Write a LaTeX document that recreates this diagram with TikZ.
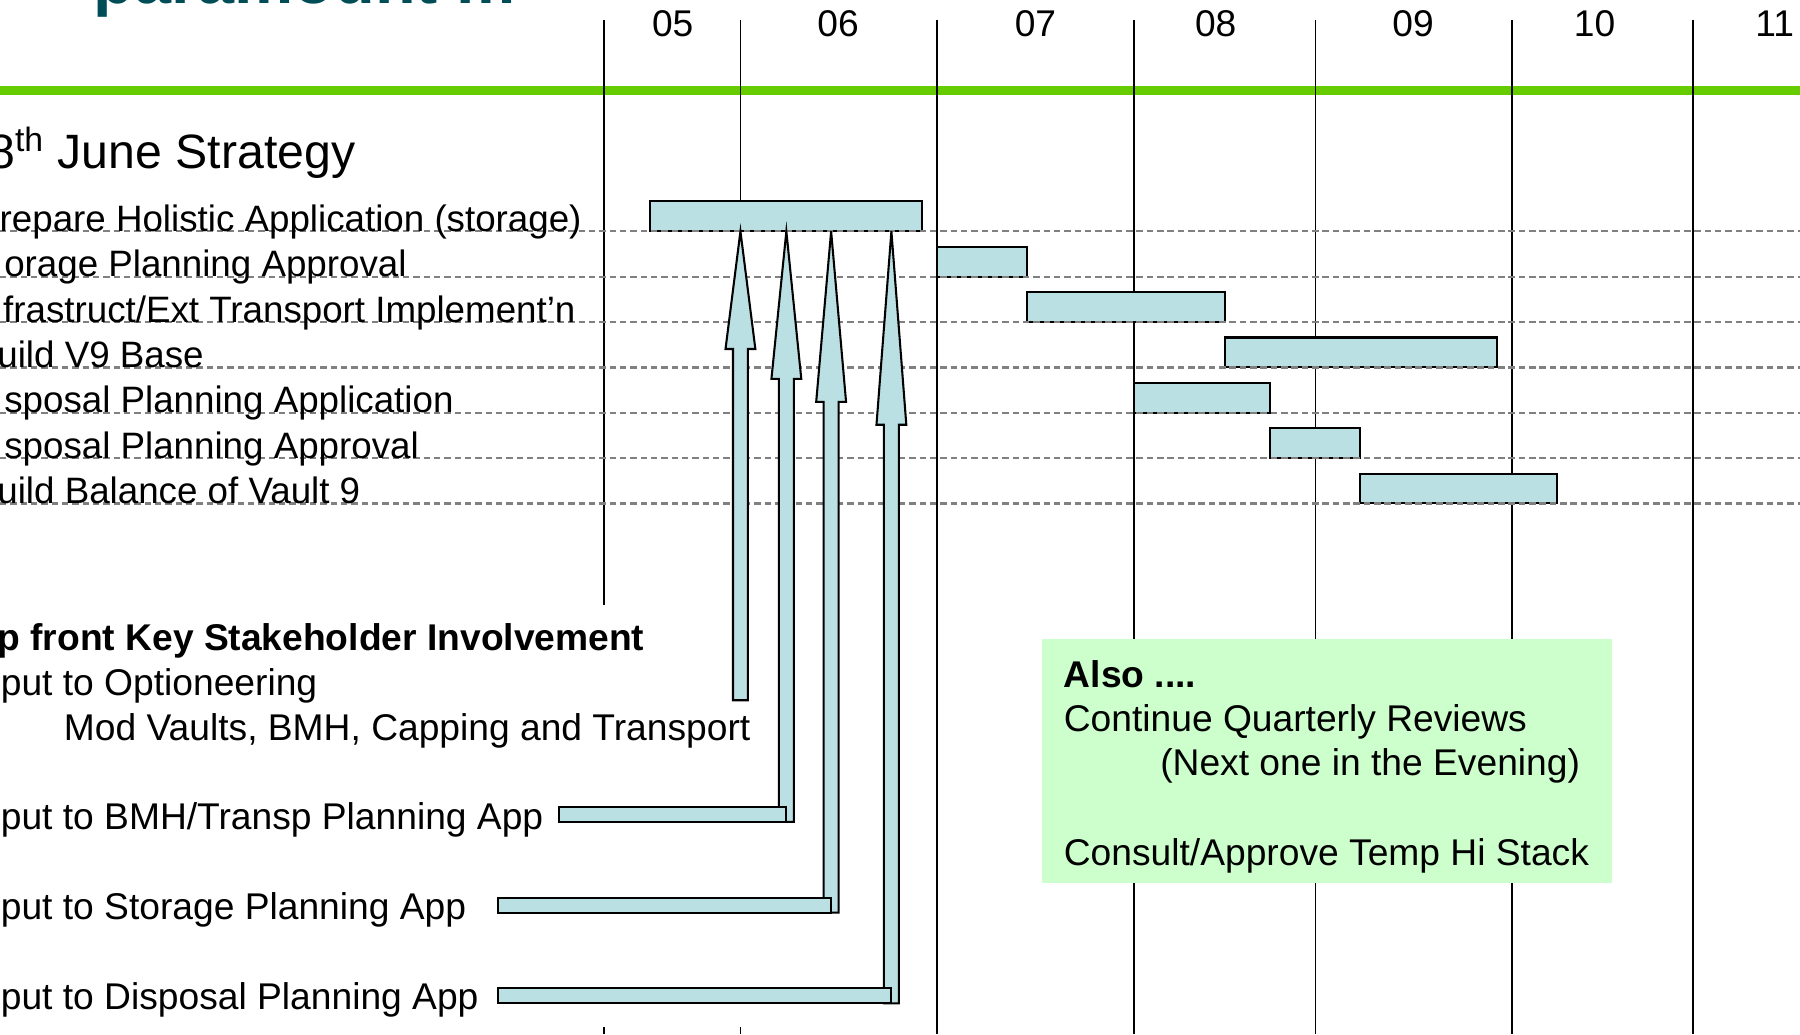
\documentclass[tikz,border=0pt]{standalone}
\usepackage{fontspec}
\setmainfont{Liberation Sans}

\definecolor{barblue}{RGB}{187,224,227}
\definecolor{rulegreen}{RGB}{102,204,0}
\definecolor{notegreen}{RGB}{204,255,204}
\definecolor{titleteal}{RGB}{0,77,87}
\definecolor{leadgrey}{RGB}{128,128,128}

\tikzset{every picture/.style={line width=0.75pt}}
\tikzset{
  taskbar/.style={draw=black, fill=barblue, line width=0.9pt},
  leader/.style={draw=leadgrey, line width=1pt, dash pattern={on 2.8pt off 1.7pt}},
  gridline/.style={draw=black, line width=0.7pt},
  lbl/.style={anchor=base west, inner sep=0pt, font=\fontsize{16.2}{19}\selectfont},
  rowlbl/.style={lbl, font=\fontsize{16}{19}\selectfont},
}

\begin{document}
\begin{tikzpicture}[x=0.5pt,y=0.5pt,yscale=-1]
\useasboundingbox (0,0) rectangle (1568,901);
\clip (0,0) rectangle (1568,901);

% Text Node (title, cut by the top edge)
\draw (81,3) node (title) [anchor=base west][inner sep=0pt] [font=\fontsize{29}{34}\selectfont\bfseries] [color=titleteal] {paramount m};

%Straight Lines (green rule)
\draw [color=rulegreen, line width=4pt] (0,79) -- (1568,79) ;

%Straight Lines (month grid)
\draw [gridline] (526,17) -- (526,527) ;
\draw [gridline] (526,895) -- (526,901) ;
\draw [gridline] (645,17) -- (645,527) ;
\draw [gridline] (645,895) -- (645,901) ;
\draw [gridline] (816,17) -- (816,901) ;
\draw [gridline] (988,17) -- (988,901) ;
\draw [gridline] (1146,17) -- (1146,901) ;
\draw [gridline] (1317,17) -- (1317,901) ;
\draw [gridline] (1475,17) -- (1475,901) ;

% Text Node (month numbers)
\draw (586,32) node (m05) [lbl, anchor=base] {05};
\draw (730,32) node (m06) [lbl, anchor=base] {06};
\draw (902,32) node (m07) [lbl, anchor=base] {07};
\draw (1059,32) node (m08) [lbl, anchor=base] {08};
\draw (1231,32) node (m09) [lbl, anchor=base] {09};
\draw (1389,32) node (m10) [lbl, anchor=base] {10};
\draw (1546,32) node (m11) [lbl, anchor=base] {11};

%Shape: Rectangle (task bars)
\draw [taskbar] (566,175) rectangle (803,201.5) ;
\draw [taskbar] (816,215) rectangle (895,241) ;
\draw [taskbar] (895,254.5) rectangle (1067,280.5) ;
\draw [taskbar] (1067,294) rectangle (1304,320) ;
\draw [taskbar] (988,333.5) rectangle (1106,359.5) ;
\draw [taskbar] (1106,373) rectangle (1185,399) ;
\draw [taskbar] (1185,412.5) rectangle (1356,438.5) ;

%Straight Lines (dashed leaders)
\draw [leader] (0,201.5) -- (1568,201.5) ;
\draw [leader] (0,241) -- (1568,241) ;
\draw [leader] (0,280.5) -- (1568,280.5) ;
\draw [leader] (0,320) -- (1568,320) ;
\draw [leader] (0,359.5) -- (1568,359.5) ;
\draw [leader] (0,399) -- (1568,399) ;
\draw [leader] (0,438.5) -- (1568,438.5) ;

%Shape: Up Arrow
\draw [taskbar] (645,201.5) -- (658,304) -- (651.5,304) -- (651.5,610) -- (638.5,610) -- (638.5,304) -- (632,304) -- cycle ;
%Shape: Up Arrow
\draw [taskbar] (685,201.5) -- (698,330) -- (691.5,330) -- (691.5,716) -- (678.5,716) -- (678.5,330) -- (672,330) -- cycle ;
%Shape: Up Arrow
\draw [taskbar] (724,201.5) -- (737,350) -- (730.5,350) -- (730.5,795) -- (717.5,795) -- (717.5,350) -- (711,350) -- cycle ;
%Shape: Up Arrow
\draw [taskbar] (776.5,201.5) -- (789.5,370) -- (783,370) -- (783,874) -- (770,874) -- (770,370) -- (763.5,370) -- cycle ;

%Shape: Rectangle (feeds into the arrows)
\draw [taskbar] (487,703) rectangle (685,716) ;
\draw [taskbar] (434,782) rectangle (724,795) ;
\draw [taskbar] (434,860.5) rectangle (776.5,874) ;

%Shape: Rectangle (note)
\fill [notegreen] (908,557) rectangle (1404,769) ;

% Text Node
\draw (-11,147) node (strategy) [lbl] [font=\fontsize{21}{25}\selectfont] {8\textsuperscript{th} June Strategy};
% Text Node
\draw (-1,201.5) node (holistic) [rowlbl] {repare Holistic Application (storage)};
% Text Node
\draw (3,241) node (storapp) [rowlbl] {orage Planning Approval};
% Text Node
\draw (2,280.5) node (infra) [rowlbl] {frastruct/Ext Transport Implement’n};
% Text Node
\draw (-3,320) node (vbase) [rowlbl] {uild V9 Base};
% Text Node
\draw (3,359.5) node (dispapp) [rowlbl] {sposal Planning Application};
% Text Node
\draw (3,399) node (dispappr) [rowlbl] {sposal Planning Approval};
% Text Node
\draw (-3,438.5) node (vbal) [rowlbl] {uild Balance of Vault 9};

% Text Node
\draw (-3,567) node (upfront) [lbl] [font=\fontsize{16.2}{19}\selectfont\bfseries] {p front Key Stakeholder Involvement};
% Text Node
\draw (0,606) node (optin) [lbl] {put to Optioneering};
% Text Node
\draw (55,645) node (optlist) [lbl] {Mod Vaults, BMH, Capping and Transport};
% Text Node
\draw (0,723) node (bmhin) [lbl] {put to BMH/Transp Planning App};
% Text Node
\draw (0,801) node (storin) [lbl] {put to Storage Planning App};
% Text Node
\draw (0,879) node (dispin) [lbl] {put to Disposal Planning App};

% Text Node
\draw (926,598.5) node (also) [lbl] [font=\fontsize{16.2}{19}\selectfont\bfseries] {Also ....};
% Text Node
\draw (926,637) node (reviews) [lbl] {Continue Quarterly Reviews};
% Text Node
\draw (1010,675.5) node (evening) [lbl] {(Next one in the Evening)};
% Text Node
\draw (926,753.5) node (histack) [lbl] {Consult/Approve Temp Hi Stack};

\end{tikzpicture}
\end{document}
